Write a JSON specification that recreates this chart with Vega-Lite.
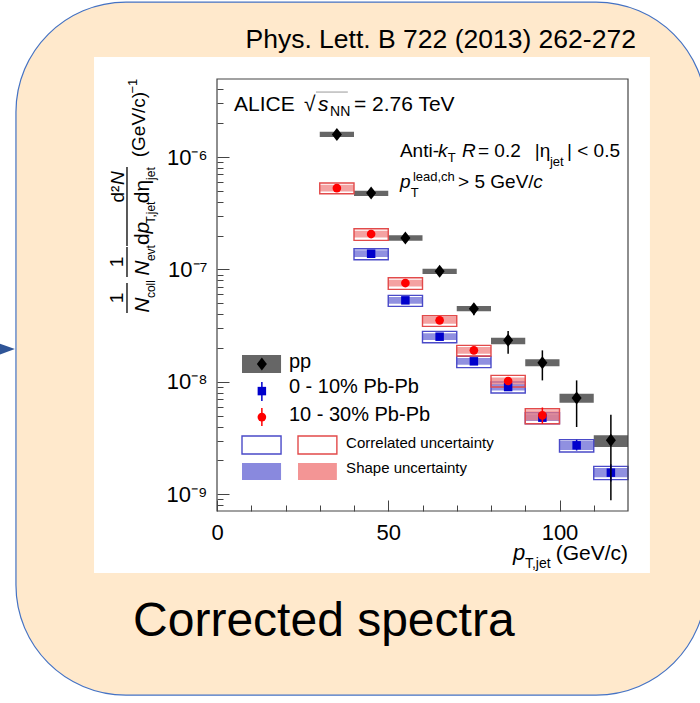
{
"$schema": "https://vega.github.io/schema/vega-lite/v6.json",
"width": 411, "height": 432,
"autosize": {"type": "none"},
"padding": {"left": 217, "top": 79, "right": 72, "bottom": 192},
"background": "white",
"config": {"view": {"stroke": null}, "font": "Liberation Sans", "axis": {"zindex": 1}},
"resolve": {"axis": {"x": "independent", "y": "independent"}},
"data": {"values": [{}]},
"datasets": {
"pp": [
{"pt":35,"xlo":30,"xhi":40,"y":1.590e-6,"stat_lo":1.56e-6,"stat_hi":1.62e-6,"sys_lo":1.506e-6,"sys_hi":1.680e-6},
{"pt":45,"xlo":40,"xhi":50,"y":4.783e-7,"stat_lo":4.70e-7,"stat_hi":4.87e-7,"sys_lo":4.497e-7,"sys_hi":5.018e-7},
{"pt":55,"xlo":50,"xhi":60,"y":1.904e-7,"stat_lo":1.87e-7,"stat_hi":1.94e-7,"sys_lo":1.802e-7,"sys_hi":2.011e-7},
{"pt":65,"xlo":60,"xhi":70,"y":9.619e-8,"stat_lo":9.35e-8,"stat_hi":9.9e-8,"sys_lo":9.108e-8,"sys_hi":1.016e-7},
{"pt":75,"xlo":70,"xhi":80,"y":4.477e-8,"stat_lo":3.906e-8,"stat_hi":4.960e-8,"sys_lo":4.239e-8,"sys_hi":4.728e-8},
{"pt":85,"xlo":80,"xhi":90,"y":2.341e-8,"stat_lo":1.781e-8,"stat_hi":2.834e-8,"sys_lo":2.157e-8,"sys_hi":2.472e-8},
{"pt":95,"xlo":90,"xhi":100,"y":1.482e-8,"stat_lo":1.031e-8,"stat_hi":1.907e-8,"sys_lo":1.374e-8,"sys_hi":1.586e-8},
{"pt":105,"xlo":100,"xhi":110,"y":7.186e-9,"stat_lo":3.967e-9,"stat_hi":1.031e-8,"sys_lo":6.531e-9,"sys_hi":7.852e-9},
{"pt":115,"xlo":110,"xhi":120,"y":3.020e-9,"stat_lo":8.838e-10,"stat_hi":5.108e-9,"sys_lo":2.634e-9,"sys_hi":3.345e-9}
],
"c1030": [
{"pt":35,"xlo":30,"xhi":40,"y":5.300e-7,"stat_lo":5.15e-7,"stat_hi":5.45e-7,"corr_lo":4.718e-7,"corr_hi":5.871e-7,"shape_lo":4.94e-7,"shape_hi":5.68e-7},
{"pt":45,"xlo":40,"xhi":50,"y":2.066e-7,"stat_lo":2.01e-7,"stat_hi":2.12e-7,"corr_lo":1.815e-7,"corr_hi":2.305e-7,"shape_lo":1.927e-7,"shape_hi":2.215e-7},
{"pt":55,"xlo":50,"xhi":60,"y":7.571e-8,"stat_lo":7.35e-8,"stat_hi":7.8e-8,"corr_lo":6.652e-8,"corr_hi":8.450e-8,"shape_lo":7.06e-8,"shape_hi":8.12e-8},
{"pt":65,"xlo":60,"xhi":70,"y":3.526e-8,"stat_lo":3.42e-8,"stat_hi":3.64e-8,"corr_lo":3.118e-8,"corr_hi":3.880e-8,"shape_lo":3.29e-8,"shape_hi":3.78e-8},
{"pt":75,"xlo":70,"xhi":80,"y":1.907e-8,"stat_lo":1.84e-8,"stat_hi":1.98e-8,"corr_lo":1.698e-8,"corr_hi":2.113e-8,"shape_lo":1.779e-8,"shape_hi":2.045e-8},
{"pt":85,"xlo":80,"xhi":90,"y":1.018e-8,"stat_lo":9.4e-9,"stat_hi":1.10e-8,"corr_lo":9.00e-9,"corr_hi":1.143e-8,"shape_lo":9.50e-9,"shape_hi":1.092e-8},
{"pt":95,"xlo":90,"xhi":100,"y":5.038e-9,"stat_lo":4.25e-9,"stat_hi":5.92e-9,"corr_lo":4.247e-9,"corr_hi":5.775e-9,"shape_lo":4.53e-9,"shape_hi":5.60e-9}
],
"c010": [
{"pt":45,"xlo":40,"xhi":50,"y":1.380e-7,"stat_lo":1.34e-7,"stat_hi":1.42e-7,"corr_lo":1.221e-7,"corr_hi":1.530e-7,"shape_lo":1.288e-7,"shape_hi":1.479e-7},
{"pt":55,"xlo":50,"xhi":60,"y":5.312e-8,"stat_lo":5.15e-8,"stat_hi":5.48e-8,"corr_lo":4.696e-8,"corr_hi":5.885e-8,"shape_lo":4.96e-8,"shape_hi":5.69e-8},
{"pt":65,"xlo":60,"xhi":70,"y":2.523e-8,"stat_lo":2.44e-8,"stat_hi":2.61e-8,"corr_lo":2.232e-8,"corr_hi":2.813e-8,"shape_lo":2.355e-8,"shape_hi":2.703e-8},
{"pt":75,"xlo":70,"xhi":80,"y":1.523e-8,"stat_lo":1.46e-8,"stat_hi":1.59e-8,"corr_lo":1.338e-8,"corr_hi":1.687e-8,"shape_lo":1.421e-8,"shape_hi":1.632e-8},
{"pt":85,"xlo":80,"xhi":90,"y":9.00e-9,"stat_lo":8.5e-9,"stat_hi":9.5e-9,"corr_lo":7.96e-9,"corr_hi":9.97e-9,"shape_lo":8.40e-9,"shape_hi":9.64e-9},
{"pt":95,"xlo":90,"xhi":100,"y":4.804e-9,"stat_lo":4.45e-9,"stat_hi":5.2e-9,"corr_lo":4.247e-9,"corr_hi":5.32e-9,"shape_lo":4.48e-9,"shape_hi":5.15e-9},
{"pt":105,"xlo":100,"xhi":110,"y":2.725e-9,"stat_lo":2.45e-9,"stat_hi":3.05e-9,"corr_lo":2.377e-9,"corr_hi":3.061e-9,"shape_lo":2.478e-9,"shape_hi":2.997e-9},
{"pt":115,"xlo":110,"xhi":120,"y":1.557e-9,"stat_lo":1.3e-9,"stat_hi":1.85e-9,"corr_lo":1.349e-9,"corr_hi":1.773e-9,"shape_lo":1.416e-9,"shape_hi":1.712e-9}
]
},
"layer": [
{"mark": {"type": "rect", "fill": "#FFE9CC", "stroke": "#4472C4", "strokeWidth": 1.2, "cornerRadius": 110},
 "encoding": {"x": {"datum": -58.7, "type": "quantitative", "scale": {"domain":[0,120],"nice":false,"zero":false}, "axis": null}, "x2": {"datum": 142.8},
  "y": {"datum": 2.393e-5, "type": "quantitative", "scale": {"type":"log","domain":[7.1e-10,4.95e-6],"nice":false}, "axis": null}, "y2": {"datum": 1.635e-11}}},
{"mark": {"type": "point", "shape": "M-1,-0.73L1,0L-1,0.73Z", "filled": true, "color": "#2F5597", "opacity": 1, "size": 225},
 "encoding": {"x": {"datum": -61.2, "type": "quantitative", "scale": {"domain":[0,120],"nice":false,"zero":false}, "axis": null},
  "y": {"datum": 1.957e-8, "type": "quantitative", "scale": {"type":"log","domain":[7.1e-10,4.95e-6],"nice":false}, "axis": null}}},
{"mark": {"type": "rect", "fill": "white"},
 "encoding": {"x": {"datum": -35.9, "type": "quantitative", "scale": {"domain":[0,120],"nice":false,"zero":false}, "axis": null}, "x2": {"datum": 126.4},
  "y": {"datum": 7.757e-6, "type": "quantitative", "scale": {"type":"log","domain":[7.1e-10,4.95e-6],"nice":false}, "axis": null}, "y2": {"datum": 1.990e-10}}},
{"mark": {"type": "text", "text": "Phys. Lett. B 722 (2013) 262-272", "fontSize": 26.5, "align": "right", "baseline": "alphabetic", "color": "black"},
 "encoding": {"x": {"datum": 122.3, "type": "quantitative", "scale": {"domain":[0,120],"nice":false,"zero":false}, "axis": null},
  "y": {"datum": 9.33e-6, "type": "quantitative", "scale": {"type":"log","domain":[7.1e-10,4.95e-6],"nice":false}, "axis": null}}},
{"mark": {"type": "text", "text": "Corrected spectra", "fontSize": 48, "align": "left", "baseline": "alphabetic", "color": "black"},
 "encoding": {"x": {"datum": -24.5, "type": "quantitative", "scale": {"domain":[0,120],"nice":false,"zero":false}, "axis": null},
  "y": {"datum": 5.47e-11, "type": "quantitative", "scale": {"type":"log","domain":[7.1e-10,4.95e-6],"nice":false}, "axis": null}}},
{"data": {"name": "pp"},
 "mark": {"type": "rect", "fill": "#666666"},
 "encoding": {
  "x": {"field": "xlo", "type": "quantitative", "scale": {"domain":[0,120],"nice":false,"zero":false},
   "axis": {"orient": "bottom", "values":[0,50,100],"tickSize":-11,"tickColor":"#444","tickWidth":1,"domain":false,"grid":false,"labelFontSize":22,"labelFont":"Liberation Sans","labelColor":"black","labelPadding":22,"labelFlush":false,"labelOverlap":false,"title":null,"zindex":1}},
  "x2": {"field": "xhi"},
  "y": {"field": "sys_lo", "type": "quantitative", "scale": {"type":"log","domain":[7.1e-10,4.95e-6],"nice":false},
   "axis": {"orient": "left", "values":[1e-9,1e-8,1e-7,1e-6],"labelExpr":"datum.value === 1e-6 ? '10⁻⁶' : datum.value === 1e-7 ? '10⁻⁷' : datum.value === 1e-8 ? '10⁻⁸' : '10⁻⁹'","tickSize":-12,"tickColor":"#444","tickWidth":1,"domain":false,"grid":false,"labelFontSize":22,"labelFont":"Liberation Sans","labelColor":"black","labelPadding":22,"labelFlush":false,"labelOverlap":false,"title":null,"zindex":1}},
  "y2": {"field": "sys_hi"}}},
{"data": {"name": "c010"},
 "mark": {"type": "rect", "fill": "#6b6bd6", "fillOpacity": 0.75},
 "encoding": {"x": {"field": "xlo", "type": "quantitative", "scale": {"domain":[0,120],"nice":false,"zero":false}, "axis": null}, "x2": {"field": "xhi"},
  "y": {"field": "shape_lo", "type": "quantitative", "scale": {"type":"log","domain":[7.1e-10,4.95e-6],"nice":false}, "axis": null}, "y2": {"field": "shape_hi"}}},
{"data": {"name": "c010"},
 "mark": {"type": "rect", "fill": "transparent", "stroke": "#4a4ac8", "strokeWidth": 1.4},
 "encoding": {"x": {"field": "xlo", "type": "quantitative", "scale": {"domain":[0,120],"nice":false,"zero":false}, "axis": null}, "x2": {"field": "xhi"},
  "y": {"field": "corr_lo", "type": "quantitative", "scale": {"type":"log","domain":[7.1e-10,4.95e-6],"nice":false}, "axis": null}, "y2": {"field": "corr_hi"}}},
{"data": {"name": "c1030"},
 "mark": {"type": "rect", "fill": "#f07a7a", "fillOpacity": 0.7},
 "encoding": {"x": {"field": "xlo", "type": "quantitative", "scale": {"domain":[0,120],"nice":false,"zero":false}, "axis": null}, "x2": {"field": "xhi"},
  "y": {"field": "shape_lo", "type": "quantitative", "scale": {"type":"log","domain":[7.1e-10,4.95e-6],"nice":false}, "axis": null}, "y2": {"field": "shape_hi"}}},
{"data": {"name": "c1030"},
 "mark": {"type": "rect", "fill": "transparent", "stroke": "#e24a4a", "strokeWidth": 1.4},
 "encoding": {"x": {"field": "xlo", "type": "quantitative", "scale": {"domain":[0,120],"nice":false,"zero":false}, "axis": null}, "x2": {"field": "xhi"},
  "y": {"field": "corr_lo", "type": "quantitative", "scale": {"type":"log","domain":[7.1e-10,4.95e-6],"nice":false}, "axis": null}, "y2": {"field": "corr_hi"}}},
{"data": {"name": "c010"},
 "mark": {"type": "rule", "color": "#0000cc", "strokeWidth": 1.5},
 "encoding": {"x": {"field": "pt", "type": "quantitative", "scale": {"domain":[0,120],"nice":false,"zero":false}, "axis": null},
  "y": {"field": "stat_lo", "type": "quantitative", "scale": {"type":"log","domain":[7.1e-10,4.95e-6],"nice":false}, "axis": null}, "y2": {"field": "stat_hi"}}},
{"data": {"name": "c010"},
 "mark": {"type": "point", "shape": "square", "filled": true, "color": "#0000cc", "opacity": 1, "size": 72},
 "encoding": {"x": {"field": "pt", "type": "quantitative", "scale": {"domain":[0,120],"nice":false,"zero":false}, "axis": null},
  "y": {"field": "y", "type": "quantitative", "scale": {"type":"log","domain":[7.1e-10,4.95e-6],"nice":false}, "axis": null}}},
{"data": {"name": "c1030"},
 "mark": {"type": "rule", "color": "#ff0000", "strokeWidth": 1.5},
 "encoding": {"x": {"field": "pt", "type": "quantitative", "scale": {"domain":[0,120],"nice":false,"zero":false}, "axis": null},
  "y": {"field": "stat_lo", "type": "quantitative", "scale": {"type":"log","domain":[7.1e-10,4.95e-6],"nice":false}, "axis": null}, "y2": {"field": "stat_hi"}}},
{"data": {"name": "c1030"},
 "mark": {"type": "point", "shape": "circle", "filled": true, "color": "#ff0000", "opacity": 1, "size": 75},
 "encoding": {"x": {"field": "pt", "type": "quantitative", "scale": {"domain":[0,120],"nice":false,"zero":false}, "axis": null},
  "y": {"field": "y", "type": "quantitative", "scale": {"type":"log","domain":[7.1e-10,4.95e-6],"nice":false}, "axis": null}}},
{"data": {"name": "pp"},
 "mark": {"type": "rule", "color": "black", "strokeWidth": 1.5},
 "encoding": {"x": {"field": "pt", "type": "quantitative", "scale": {"domain":[0,120],"nice":false,"zero":false}, "axis": null},
  "y": {"field": "stat_lo", "type": "quantitative", "scale": {"type":"log","domain":[7.1e-10,4.95e-6],"nice":false}, "axis": null}, "y2": {"field": "stat_hi"}}},
{"data": {"name": "pp"},
 "mark": {"type": "point", "shape": "M0,-1.3L1,0L0,1.3L-1,0Z", "filled": true, "color": "black", "opacity": 1, "size": 100},
 "encoding": {"x": {"field": "pt", "type": "quantitative", "scale": {"domain":[0,120],"nice":false,"zero":false}, "axis": null},
  "y": {"field": "y", "type": "quantitative", "scale": {"type":"log","domain":[7.1e-10,4.95e-6],"nice":false}, "axis": null}}},
{"mark": {"type": "rect", "fill": "#666666"},
 "encoding": {"x": {"datum": 7.3, "type": "quantitative", "scale": {"domain":[0,120],"nice":false,"zero":false}, "axis": null}, "x2": {"datum": 18.7},
  "y": {"datum": 1.731e-8, "type": "quantitative", "scale": {"type":"log","domain":[7.1e-10,4.95e-6],"nice":false}, "axis": null}, "y2": {"datum": 1.197e-8}}},
{"mark": {"type": "point", "shape": "M0,-1.3L1,0L0,1.3L-1,0Z", "filled": true, "color": "black", "opacity": 1, "size": 100},
 "encoding": {"x": {"datum": 13.1, "type": "quantitative", "scale": {"domain":[0,120],"nice":false,"zero":false}, "axis": null},
  "y": {"datum": 1.44e-8, "type": "quantitative", "scale": {"type":"log","domain":[7.1e-10,4.95e-6],"nice":false}, "axis": null}}},
{"mark": {"type": "rule", "color": "#0000cc", "strokeWidth": 1.5},
 "encoding": {"x": {"datum": 13.1, "type": "quantitative", "scale": {"domain":[0,120],"nice":false,"zero":false}, "axis": null},
  "y": {"datum": 9.96e-9, "type": "quantitative", "scale": {"type":"log","domain":[7.1e-10,4.95e-6],"nice":false}, "axis": null}, "y2": {"datum": 6.75e-9}}},
{"mark": {"type": "point", "shape": "square", "filled": true, "color": "#0000cc", "opacity": 1, "size": 72},
 "encoding": {"x": {"datum": 13.1, "type": "quantitative", "scale": {"domain":[0,120],"nice":false,"zero":false}, "axis": null},
  "y": {"datum": 8.28e-9, "type": "quantitative", "scale": {"type":"log","domain":[7.1e-10,4.95e-6],"nice":false}, "axis": null}}},
{"mark": {"type": "rule", "color": "#ff0000", "strokeWidth": 1.5},
 "encoding": {"x": {"datum": 13.1, "type": "quantitative", "scale": {"domain":[0,120],"nice":false,"zero":false}, "axis": null},
  "y": {"datum": 5.85e-9, "type": "quantitative", "scale": {"type":"log","domain":[7.1e-10,4.95e-6],"nice":false}, "axis": null}, "y2": {"datum": 4.04e-9}}},
{"mark": {"type": "point", "shape": "circle", "filled": true, "color": "#ff0000", "opacity": 1, "size": 75},
 "encoding": {"x": {"datum": 13.1, "type": "quantitative", "scale": {"domain":[0,120],"nice":false,"zero":false}, "axis": null},
  "y": {"datum": 4.86e-9, "type": "quantitative", "scale": {"type":"log","domain":[7.1e-10,4.95e-6],"nice":false}, "axis": null}}},
{"mark": {"type": "rect", "fill": "transparent", "stroke": "#4a4ac8", "strokeWidth": 1.4},
 "encoding": {"x": {"datum": 7.3, "type": "quantitative", "scale": {"domain":[0,120],"nice":false,"zero":false}, "axis": null}, "x2": {"datum": 18.7},
  "y": {"datum": 3.295e-9, "type": "quantitative", "scale": {"type":"log","domain":[7.1e-10,4.95e-6],"nice":false}, "axis": null}, "y2": {"datum": 2.279e-9}}},
{"mark": {"type": "rect", "fill": "transparent", "stroke": "#e24a4a", "strokeWidth": 1.4},
 "encoding": {"x": {"datum": 23.65, "type": "quantitative", "scale": {"domain":[0,120],"nice":false,"zero":false}, "axis": null}, "x2": {"datum": 35.0},
  "y": {"datum": 3.295e-9, "type": "quantitative", "scale": {"type":"log","domain":[7.1e-10,4.95e-6],"nice":false}, "axis": null}, "y2": {"datum": 2.279e-9}}},
{"mark": {"type": "rect", "fill": "#6b6bd6", "fillOpacity": 0.8},
 "encoding": {"x": {"datum": 7.3, "type": "quantitative", "scale": {"domain":[0,120],"nice":false,"zero":false}, "axis": null}, "x2": {"datum": 18.7},
  "y": {"datum": 1.895e-9, "type": "quantitative", "scale": {"type":"log","domain":[7.1e-10,4.95e-6],"nice":false}, "axis": null}, "y2": {"datum": 1.338e-9}}},
{"mark": {"type": "rect", "fill": "#f07a7a", "fillOpacity": 0.8},
 "encoding": {"x": {"datum": 23.65, "type": "quantitative", "scale": {"domain":[0,120],"nice":false,"zero":false}, "axis": null}, "x2": {"datum": 35.0},
  "y": {"datum": 1.895e-9, "type": "quantitative", "scale": {"type":"log","domain":[7.1e-10,4.95e-6],"nice":false}, "axis": null}, "y2": {"datum": 1.338e-9}}},
{"mark": {"type": "text", "text": "ALICE", "fontSize": 21, "align": "left", "baseline": "alphabetic", "color": "black"},
 "encoding": {"x": {"datum": 4.96, "type": "quantitative", "scale": {"domain":[0,120],"nice":false,"zero":false}, "axis": null}, "y": {"datum": 2.566e-6, "type": "quantitative", "scale": {"type":"log","domain":[7.1e-10,4.95e-6],"nice":false}, "axis": null}}},
{"mark": {"type": "text", "text": "√", "fontSize": 21, "align": "left", "baseline": "alphabetic", "color": "black"},
 "encoding": {"x": {"datum": 25.4, "type": "quantitative", "scale": {"domain":[0,120],"nice":false,"zero":false}, "axis": null}, "y": {"datum": 2.566e-6, "type": "quantitative", "scale": {"type":"log","domain":[7.1e-10,4.95e-6],"nice":false}, "axis": null}}},
{"mark": {"type": "rule", "color": "#999999", "strokeWidth": 1},
 "encoding": {"x": {"datum": 28.9, "type": "quantitative", "scale": {"domain":[0,120],"nice":false,"zero":false}, "axis": null}, "x2": {"datum": 38.2}, "y": {"datum": 3.788e-6, "type": "quantitative", "scale": {"type":"log","domain":[7.1e-10,4.95e-6],"nice":false}, "axis": null}}},
{"mark": {"type": "text", "text": "s", "fontStyle": "italic", "fontSize": 21, "align": "left", "baseline": "alphabetic", "color": "black"},
 "encoding": {"x": {"datum": 29.5, "type": "quantitative", "scale": {"domain":[0,120],"nice":false,"zero":false}, "axis": null}, "y": {"datum": 2.566e-6, "type": "quantitative", "scale": {"type":"log","domain":[7.1e-10,4.95e-6],"nice":false}, "axis": null}}},
{"mark": {"type": "text", "text": "NN", "fontSize": 14, "align": "left", "baseline": "alphabetic", "color": "black"},
 "encoding": {"x": {"datum": 33.0, "type": "quantitative", "scale": {"domain":[0,120],"nice":false,"zero":false}, "axis": null}, "y": {"datum": 2.317e-6, "type": "quantitative", "scale": {"type":"log","domain":[7.1e-10,4.95e-6],"nice":false}, "axis": null}}},
{"mark": {"type": "text", "text": "= 2.76 TeV", "fontSize": 21, "align": "left", "baseline": "alphabetic", "color": "black"},
 "encoding": {"x": {"datum": 40.0, "type": "quantitative", "scale": {"domain":[0,120],"nice":false,"zero":false}, "axis": null}, "y": {"datum": 2.566e-6, "type": "quantitative", "scale": {"type":"log","domain":[7.1e-10,4.95e-6],"nice":false}, "axis": null}}},
{"mark": {"type": "text", "text": "Anti-", "fontSize": 19, "align": "left", "baseline": "alphabetic", "color": "black"},
 "encoding": {"x": {"datum": 53.4, "type": "quantitative", "scale": {"domain":[0,120],"nice":false,"zero":false}, "axis": null}, "y": {"datum": 1e-6, "type": "quantitative", "scale": {"type":"log","domain":[7.1e-10,4.95e-6],"nice":false}, "axis": null}}},
{"mark": {"type": "text", "text": "k", "fontStyle": "italic", "fontSize": 19, "align": "left", "baseline": "alphabetic", "color": "black"},
 "encoding": {"x": {"datum": 64.5, "type": "quantitative", "scale": {"domain":[0,120],"nice":false,"zero":false}, "axis": null}, "y": {"datum": 1e-6, "type": "quantitative", "scale": {"type":"log","domain":[7.1e-10,4.95e-6],"nice":false}, "axis": null}}},
{"mark": {"type": "text", "text": "T", "fontSize": 13, "align": "left", "baseline": "alphabetic", "color": "black"},
 "encoding": {"x": {"datum": 67.4, "type": "quantitative", "scale": {"domain":[0,120],"nice":false,"zero":false}, "axis": null}, "y": {"datum": 9.03e-7, "type": "quantitative", "scale": {"type":"log","domain":[7.1e-10,4.95e-6],"nice":false}, "axis": null}}},
{"mark": {"type": "text", "text": "R", "fontStyle": "italic", "fontSize": 19, "align": "left", "baseline": "alphabetic", "color": "black"},
 "encoding": {"x": {"datum": 71.5, "type": "quantitative", "scale": {"domain":[0,120],"nice":false,"zero":false}, "axis": null}, "y": {"datum": 1e-6, "type": "quantitative", "scale": {"type":"log","domain":[7.1e-10,4.95e-6],"nice":false}, "axis": null}}},
{"mark": {"type": "text", "text": "= 0.2", "fontSize": 19, "align": "left", "baseline": "alphabetic", "color": "black"},
 "encoding": {"x": {"datum": 76.2, "type": "quantitative", "scale": {"domain":[0,120],"nice":false,"zero":false}, "axis": null}, "y": {"datum": 1e-6, "type": "quantitative", "scale": {"type":"log","domain":[7.1e-10,4.95e-6],"nice":false}, "axis": null}}},
{"mark": {"type": "text", "text": "|η", "fontSize": 19, "align": "left", "baseline": "alphabetic", "color": "black"},
 "encoding": {"x": {"datum": 92.8, "type": "quantitative", "scale": {"domain":[0,120],"nice":false,"zero":false}, "axis": null}, "y": {"datum": 1e-6, "type": "quantitative", "scale": {"type":"log","domain":[7.1e-10,4.95e-6],"nice":false}, "axis": null}}},
{"mark": {"type": "text", "text": "jet", "fontSize": 13, "align": "left", "baseline": "alphabetic", "color": "black"},
 "encoding": {"x": {"datum": 97.2, "type": "quantitative", "scale": {"domain":[0,120],"nice":false,"zero":false}, "axis": null}, "y": {"datum": 8.32e-7, "type": "quantitative", "scale": {"type":"log","domain":[7.1e-10,4.95e-6],"nice":false}, "axis": null}}},
{"mark": {"type": "text", "text": "| < 0.5", "fontSize": 19, "align": "left", "baseline": "alphabetic", "color": "black"},
 "encoding": {"x": {"datum": 102.2, "type": "quantitative", "scale": {"domain":[0,120],"nice":false,"zero":false}, "axis": null}, "y": {"datum": 1e-6, "type": "quantitative", "scale": {"type":"log","domain":[7.1e-10,4.95e-6],"nice":false}, "axis": null}}},
{"mark": {"type": "text", "text": "p", "fontStyle": "italic", "fontSize": 19, "align": "left", "baseline": "alphabetic", "color": "black"},
 "encoding": {"x": {"datum": 53.4, "type": "quantitative", "scale": {"domain":[0,120],"nice":false,"zero":false}, "axis": null}, "y": {"datum": 5.30e-7, "type": "quantitative", "scale": {"type":"log","domain":[7.1e-10,4.95e-6],"nice":false}, "axis": null}}},
{"mark": {"type": "text", "text": "T", "fontSize": 13, "align": "left", "baseline": "alphabetic", "color": "black"},
 "encoding": {"x": {"datum": 56.6, "type": "quantitative", "scale": {"domain":[0,120],"nice":false,"zero":false}, "axis": null}, "y": {"datum": 4.41e-7, "type": "quantitative", "scale": {"type":"log","domain":[7.1e-10,4.95e-6],"nice":false}, "axis": null}}},
{"mark": {"type": "text", "text": "lead,ch", "fontSize": 13, "align": "left", "baseline": "alphabetic", "color": "black"},
 "encoding": {"x": {"datum": 57.2, "type": "quantitative", "scale": {"domain":[0,120],"nice":false,"zero":false}, "axis": null}, "y": {"datum": 6.11e-7, "type": "quantitative", "scale": {"type":"log","domain":[7.1e-10,4.95e-6],"nice":false}, "axis": null}}},
{"mark": {"type": "text", "text": "> 5 GeV/", "fontSize": 19, "align": "left", "baseline": "alphabetic", "color": "black"},
 "encoding": {"x": {"datum": 70.4, "type": "quantitative", "scale": {"domain":[0,120],"nice":false,"zero":false}, "axis": null}, "y": {"datum": 5.30e-7, "type": "quantitative", "scale": {"type":"log","domain":[7.1e-10,4.95e-6],"nice":false}, "axis": null}}},
{"mark": {"type": "text", "text": "c", "fontStyle": "italic", "fontSize": 19, "align": "left", "baseline": "alphabetic", "color": "black"},
 "encoding": {"x": {"datum": 92.3, "type": "quantitative", "scale": {"domain":[0,120],"nice":false,"zero":false}, "axis": null}, "y": {"datum": 5.30e-7, "type": "quantitative", "scale": {"type":"log","domain":[7.1e-10,4.95e-6],"nice":false}, "axis": null}}},
{"mark": {"type": "text", "text": "pp", "fontSize": 20, "align": "left", "baseline": "alphabetic", "color": "black"},
 "encoding": {"x": {"datum": 21.0, "type": "quantitative", "scale": {"domain":[0,120],"nice":false,"zero":false}, "axis": null}, "y": {"datum": 1.327e-8, "type": "quantitative", "scale": {"type":"log","domain":[7.1e-10,4.95e-6],"nice":false}, "axis": null}}},
{"mark": {"type": "text", "text": "0 - 10% Pb-Pb", "fontSize": 20, "align": "left", "baseline": "alphabetic", "color": "black"},
 "encoding": {"x": {"datum": 21.0, "type": "quantitative", "scale": {"domain":[0,120],"nice":false,"zero":false}, "axis": null}, "y": {"datum": 7.95e-9, "type": "quantitative", "scale": {"type":"log","domain":[7.1e-10,4.95e-6],"nice":false}, "axis": null}}},
{"mark": {"type": "text", "text": "10 - 30% Pb-Pb", "fontSize": 20, "align": "left", "baseline": "alphabetic", "color": "black"},
 "encoding": {"x": {"datum": 21.0, "type": "quantitative", "scale": {"domain":[0,120],"nice":false,"zero":false}, "axis": null}, "y": {"datum": 4.48e-9, "type": "quantitative", "scale": {"type":"log","domain":[7.1e-10,4.95e-6],"nice":false}, "axis": null}}},
{"mark": {"type": "text", "text": "Correlated uncertainty", "fontSize": 15, "align": "left", "baseline": "alphabetic", "color": "black"},
 "encoding": {"x": {"datum": 37.7, "type": "quantitative", "scale": {"domain":[0,120],"nice":false,"zero":false}, "axis": null}, "y": {"datum": 2.576e-9, "type": "quantitative", "scale": {"type":"log","domain":[7.1e-10,4.95e-6],"nice":false}, "axis": null}}},
{"mark": {"type": "text", "text": "Shape uncertainty", "fontSize": 15, "align": "left", "baseline": "alphabetic", "color": "black"},
 "encoding": {"x": {"datum": 37.7, "type": "quantitative", "scale": {"domain":[0,120],"nice":false,"zero":false}, "axis": null}, "y": {"datum": 1.544e-9, "type": "quantitative", "scale": {"type":"log","domain":[7.1e-10,4.95e-6],"nice":false}, "axis": null}}},
{"mark": {"type": "text", "text": "p", "fontStyle": "italic", "fontSize": 22, "align": "left", "baseline": "alphabetic", "color": "black"},
 "encoding": {"x": {"datum": 86.4, "type": "quantitative", "scale": {"domain":[0,120],"nice":false,"zero":false}, "axis": null}, "y": {"datum": 2.598e-10, "type": "quantitative", "scale": {"type":"log","domain":[7.1e-10,4.95e-6],"nice":false}, "axis": null}}},
{"mark": {"type": "text", "text": "T,jet", "fontSize": 14, "align": "left", "baseline": "alphabetic", "color": "black"},
 "encoding": {"x": {"datum": 89.9, "type": "quantitative", "scale": {"domain":[0,120],"nice":false,"zero":false}, "axis": null}, "y": {"datum": 2.205e-10, "type": "quantitative", "scale": {"type":"log","domain":[7.1e-10,4.95e-6],"nice":false}, "axis": null}}},
{"mark": {"type": "text", "text": "(GeV/c)", "fontSize": 21, "align": "right", "baseline": "alphabetic", "color": "black"},
 "encoding": {"x": {"datum": 120.0, "type": "quantitative", "scale": {"domain":[0,120],"nice":false,"zero":false}, "axis": null}, "y": {"datum": 2.598e-10, "type": "quantitative", "scale": {"type":"log","domain":[7.1e-10,4.95e-6],"nice":false}, "axis": null}}},
{"mark": {"type": "text", "text": "1", "angle": 270, "fontSize": 19, "align": "center", "baseline": "alphabetic", "color": "black"},
 "encoding": {"x": {"datum": -27.45, "type": "quantitative", "scale": {"domain":[0,120],"nice":false,"zero":false}, "axis": null}, "y": {"datum": 5.57e-8, "type": "quantitative", "scale": {"type":"log","domain":[7.1e-10,4.95e-6],"nice":false}, "axis": null}}},
{"mark": {"type": "text", "text": "1", "angle": 270, "fontSize": 19, "align": "center", "baseline": "alphabetic", "color": "black"},
 "encoding": {"x": {"datum": -27.45, "type": "quantitative", "scale": {"domain":[0,120],"nice":false,"zero":false}, "axis": null}, "y": {"datum": 1.164e-7, "type": "quantitative", "scale": {"type":"log","domain":[7.1e-10,4.95e-6],"nice":false}, "axis": null}}},
{"mark": {"type": "text", "text": "d²", "angle": 270, "fontSize": 19, "align": "center", "baseline": "alphabetic", "color": "black"},
 "encoding": {"x": {"datum": -27.15, "type": "quantitative", "scale": {"domain":[0,120],"nice":false,"zero":false}, "axis": null}, "y": {"datum": 4.686e-7, "type": "quantitative", "scale": {"type":"log","domain":[7.1e-10,4.95e-6],"nice":false}, "axis": null}}},
{"mark": {"type": "text", "text": "N", "fontStyle": "italic", "angle": 270, "fontSize": 19, "align": "center", "baseline": "alphabetic", "color": "black"},
 "encoding": {"x": {"datum": -27.15, "type": "quantitative", "scale": {"domain":[0,120],"nice":false,"zero":false}, "axis": null}, "y": {"datum": 6.505e-7, "type": "quantitative", "scale": {"type":"log","domain":[7.1e-10,4.95e-6],"nice":false}, "axis": null}}},
{"mark": {"type": "rule", "color": "black", "strokeWidth": 1.3},
 "encoding": {"x": {"datum": -26.28, "type": "quantitative", "scale": {"domain":[0,120],"nice":false,"zero":false}, "axis": null}, "y": {"datum": 7.568e-8, "type": "quantitative", "scale": {"type":"log","domain":[7.1e-10,4.95e-6],"nice":false}, "axis": null}, "y2": {"datum": 4.093e-8}}},
{"mark": {"type": "rule", "color": "black", "strokeWidth": 1.3},
 "encoding": {"x": {"datum": -26.28, "type": "quantitative", "scale": {"domain":[0,120],"nice":false,"zero":false}, "axis": null}, "y": {"datum": 1.582e-7, "type": "quantitative", "scale": {"type":"log","domain":[7.1e-10,4.95e-6],"nice":false}, "axis": null}, "y2": {"datum": 8.557e-8}}},
{"mark": {"type": "rule", "color": "black", "strokeWidth": 1.3},
 "encoding": {"x": {"datum": -26.28, "type": "quantitative", "scale": {"domain":[0,120],"nice":false,"zero":false}, "axis": null}, "y": {"datum": 8.147e-7, "type": "quantitative", "scale": {"type":"log","domain":[7.1e-10,4.95e-6],"nice":false}, "axis": null}, "y2": {"datum": 1.615e-7}}},
{"mark": {"type": "text", "text": "N", "fontStyle": "italic", "angle": 270, "fontSize": 21, "align": "center", "baseline": "alphabetic", "color": "black"},
 "encoding": {"x": {"datum": -19.85, "type": "quantitative", "scale": {"domain":[0,120],"nice":false,"zero":false}, "axis": null}, "y": {"datum": 4.825e-8, "type": "quantitative", "scale": {"type":"log","domain":[7.1e-10,4.95e-6],"nice":false}, "axis": null}}},
{"mark": {"type": "text", "text": "coll", "angle": 270, "fontSize": 12, "align": "center", "baseline": "alphabetic", "color": "black"},
 "encoding": {"x": {"datum": -18.1, "type": "quantitative", "scale": {"domain":[0,120],"nice":false,"zero":false}, "axis": null}, "y": {"datum": 6.694e-8, "type": "quantitative", "scale": {"type":"log","domain":[7.1e-10,4.95e-6],"nice":false}, "axis": null}}},
{"mark": {"type": "text", "text": "N", "fontStyle": "italic", "angle": 270, "fontSize": 21, "align": "center", "baseline": "alphabetic", "color": "black"},
 "encoding": {"x": {"datum": -19.85, "type": "quantitative", "scale": {"domain":[0,120],"nice":false,"zero":false}, "axis": null}, "y": {"datum": 1.029e-7, "type": "quantitative", "scale": {"type":"log","domain":[7.1e-10,4.95e-6],"nice":false}, "axis": null}}},
{"mark": {"type": "text", "text": "evt", "angle": 270, "fontSize": 12, "align": "center", "baseline": "alphabetic", "color": "black"},
 "encoding": {"x": {"datum": -18.1, "type": "quantitative", "scale": {"domain":[0,120],"nice":false,"zero":false}, "axis": null}, "y": {"datum": 1.399e-7, "type": "quantitative", "scale": {"type":"log","domain":[7.1e-10,4.95e-6],"nice":false}, "axis": null}}},
{"mark": {"type": "text", "text": "d", "angle": 270, "fontSize": 21, "align": "center", "baseline": "alphabetic", "color": "black"},
 "encoding": {"x": {"datum": -19.85, "type": "quantitative", "scale": {"domain":[0,120],"nice":false,"zero":false}, "axis": null}, "y": {"datum": 1.865e-7, "type": "quantitative", "scale": {"type":"log","domain":[7.1e-10,4.95e-6],"nice":false}, "axis": null}}},
{"mark": {"type": "text", "text": "p", "fontStyle": "italic", "angle": 270, "fontSize": 21, "align": "center", "baseline": "alphabetic", "color": "black"},
 "encoding": {"x": {"datum": -19.85, "type": "quantitative", "scale": {"domain":[0,120],"nice":false,"zero":false}, "axis": null}, "y": {"datum": 2.359e-7, "type": "quantitative", "scale": {"type":"log","domain":[7.1e-10,4.95e-6],"nice":false}, "axis": null}}},
{"mark": {"type": "text", "text": "T,jet", "angle": 270, "fontSize": 12, "align": "center", "baseline": "alphabetic", "color": "black"},
 "encoding": {"x": {"datum": -18.1, "type": "quantitative", "scale": {"domain":[0,120],"nice":false,"zero":false}, "axis": null}, "y": {"datum": 3.208e-7, "type": "quantitative", "scale": {"type":"log","domain":[7.1e-10,4.95e-6],"nice":false}, "axis": null}}},
{"mark": {"type": "text", "text": "dη", "angle": 270, "fontSize": 21, "align": "center", "baseline": "alphabetic", "color": "black"},
 "encoding": {"x": {"datum": -19.85, "type": "quantitative", "scale": {"domain":[0,120],"nice":false,"zero":false}, "axis": null}, "y": {"datum": 4.932e-7, "type": "quantitative", "scale": {"type":"log","domain":[7.1e-10,4.95e-6],"nice":false}, "axis": null}}},
{"mark": {"type": "text", "text": "jet", "angle": 270, "fontSize": 12, "align": "center", "baseline": "alphabetic", "color": "black"},
 "encoding": {"x": {"datum": -18.1, "type": "quantitative", "scale": {"domain":[0,120],"nice":false,"zero":false}, "axis": null}, "y": {"datum": 7.132e-7, "type": "quantitative", "scale": {"type":"log","domain":[7.1e-10,4.95e-6],"nice":false}, "axis": null}}},
{"mark": {"type": "text", "text": "(GeV/c)", "angle": 270, "fontSize": 19, "align": "center", "baseline": "alphabetic", "color": "black"},
 "encoding": {"x": {"datum": -21.0, "type": "quantitative", "scale": {"domain":[0,120],"nice":false,"zero":false}, "axis": null}, "y": {"datum": 1.946e-6, "type": "quantitative", "scale": {"type":"log","domain":[7.1e-10,4.95e-6],"nice":false}, "axis": null}}},
{"mark": {"type": "text", "text": "−1", "angle": 270, "fontSize": 13, "align": "center", "baseline": "alphabetic", "color": "black"},
 "encoding": {"x": {"datum": -23.36, "type": "quantitative", "scale": {"domain":[0,120],"nice":false,"zero":false}, "axis": null}, "y": {"datum": 4.28e-6, "type": "quantitative", "scale": {"type":"log","domain":[7.1e-10,4.95e-6],"nice":false}, "axis": null}}},
{"mark": {"type": "rect", "fill": "transparent", "stroke": "#444444", "strokeWidth": 1.2},
 "encoding": {"x": {"datum": 0, "type": "quantitative", "scale": {"domain":[0,120],"nice":false,"zero":false},
   "axis": {"orient": "bottom", "values":[10,20,30,40,60,70,80,90,110],"labels":false,"tickSize":-6,"tickColor":"#444","tickWidth":1,"domain":false,"grid":false,"title":null,"zindex":1}},
  "x2": {"datum": 120},
  "y": {"datum": 4.95e-6, "type": "quantitative", "scale": {"type":"log","domain":[7.1e-10,4.95e-6],"nice":false},
   "axis": {"orient": "left", "values":[8e-10,9e-10,2e-9,3e-9,4e-9,5e-9,6e-9,7e-9,8e-9,9e-9,2e-8,3e-8,4e-8,5e-8,6e-8,7e-8,8e-8,9e-8,2e-7,3e-7,4e-7,5e-7,6e-7,7e-7,8e-7,9e-7,2e-6,3e-6,4e-6],"labels":false,"tickSize":-6,"tickColor":"#444","tickWidth":1,"domain":false,"grid":false,"title":null,"zindex":1}},
  "y2": {"datum": 7.1e-10}}}
]
}
